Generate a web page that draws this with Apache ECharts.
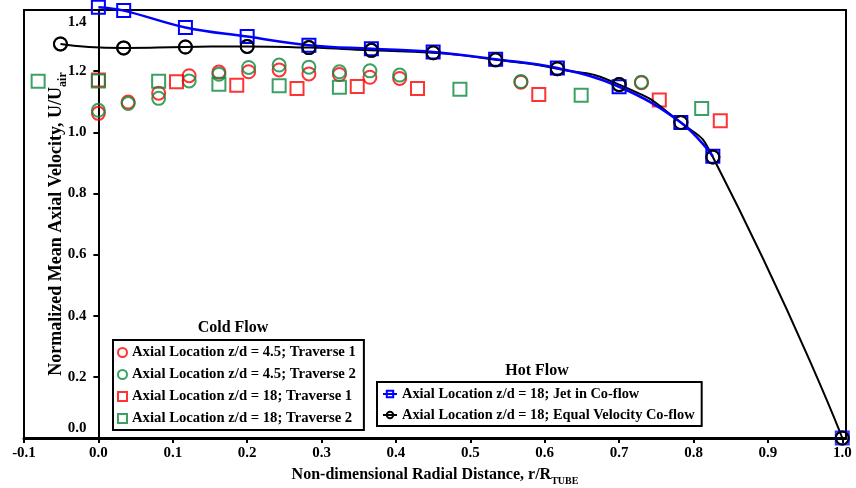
<!DOCTYPE html>
<html><head><meta charset="utf-8">
<script src="https://cdn.jsdelivr.net/npm/echarts@6/dist/echarts.min.js"></script>
<style>html,body{margin:0;padding:0;background:#fff}#c{width:856px;height:488px}</style>
</head><body><div id="c"></div>
<script>
// ---- data (r/R_TUBE, U/U_air) ----
const redCircleR   = [0.0, 0.040, 0.081, 0.122, 0.162, 0.202, 0.243, 0.283, 0.324, 0.365, 0.405, 0.568, 0.730];
const redCircleU   = [1.062, 1.099, 1.128, 1.185, 1.197, 1.198, 1.204, 1.191, 1.189, 1.180, 1.176, 1.164, 1.162];
const greenCircleR = [0.0, 0.040, 0.081, 0.122, 0.162, 0.202, 0.243, 0.283, 0.324, 0.365, 0.405, 0.568, 0.730];
const greenCircleU = [1.072, 1.094, 1.111, 1.168, 1.190, 1.212, 1.220, 1.213, 1.198, 1.201, 1.187, 1.166, 1.164];
const redSquareR   = [0.0, 0.105, 0.186, 0.267, 0.348, 0.429, 0.592, 0.754, 0.836];
const redSquareU   = [1.171, 1.165, 1.154, 1.143, 1.150, 1.143, 1.124, 1.106, 1.038];
const greenSquareR = [-0.081, 0.0, 0.081, 0.162, 0.243, 0.324, 0.486, 0.649, 0.811];
const greenSquareU = [1.167, 1.168, 1.167, 1.157, 1.152, 1.147, 1.141, 1.121, 1.078];
const jetR   = [0.0, 0.034, 0.117, 0.200, 0.283, 0.367, 0.450, 0.534, 0.617, 0.700, 0.783, 0.826, 1.0];
const jetU   = [1.409, 1.398, 1.343, 1.313, 1.285, 1.273, 1.263, 1.239, 1.210, 1.149, 1.032, 0.922, 0.0];
const equalR = [-0.051, 0.034, 0.117, 0.200, 0.283, 0.367, 0.450, 0.534, 0.617, 0.700, 0.783, 0.826, 1.0];
const equalU = [1.289, 1.276, 1.279, 1.281, 1.277, 1.268, 1.260, 1.237, 1.208, 1.156, 1.032, 0.919, 0.0];

const coldNames = ['Axial Location z/d = 4.5; Traverse 1', 'Axial Location z/d = 4.5; Traverse 2',
                   'Axial Location z/d = 18; Traverse 1', 'Axial Location z/d = 18; Traverse 2'];
const hotNames  = ['Axial Location z/d = 18; Jet in Co-flow', 'Axial Location z/d = 18; Equal Velocity Co-flow'];
const coldTitle = 'Cold Flow', hotTitle = 'Hot Flow';
const xName = 'Non-dimensional Radial Distance, r/R{sub|TUBE}';
const yName = 'Normalized Mean Axial Velocity, U/U{sub|air}';

// ---- styling ----
const FONT = 'Liberation Serif';
const RED = '#ff0000', GREEN = '#0a8a3c', BLUE = '#0000ff', BLACK = '#000000';
const pts = (r, u) => r.map((x, i) => [x, u[i]]);
const mk = (sym, color) => ({symbol: sym, symbolSize: 13,
  itemStyle: {color: 'rgba(0,0,0,0)', borderColor: color, borderWidth: 2}});
const txt = {fontFamily: FONT, fontWeight: 'bold', color: '#000'};

const GRID = {left: 24, right: 10, top: 10, bottom: 50};
const X_MIN = -0.1, X_MAX = 1.005;
// pixel offset that moves the y axis from the grid's left edge to r = 0
const yAxisOffset = -(0 - X_MIN) / (X_MAX - X_MIN) * (856 - GRID.left - GRID.right);

const n = jetR.length;
const series = [
  Object.assign({type: 'scatter', name: coldNames[0], data: pts(redCircleR, redCircleU), z: 2, clip: false}, mk('circle', RED)),
  Object.assign({type: 'scatter', name: coldNames[1], data: pts(greenCircleR, greenCircleU), z: 2, clip: false}, mk('circle', GREEN)),
  Object.assign({type: 'scatter', name: coldNames[2], data: pts(redSquareR, redSquareU), z: 2, clip: false}, mk('rect', RED)),
  Object.assign({type: 'scatter', name: coldNames[3], data: pts(greenSquareR, greenSquareU), z: 2, clip: false}, mk('rect', GREEN)),
  Object.assign({type: 'line', name: hotNames[1], data: pts(equalR, equalU), smooth: 0.6,
    z: 3, clip: false, showSymbol: true, lineStyle: {color: BLACK, width: 2}}, mk('circle', BLACK)),
  Object.assign({type: 'line', name: hotNames[0], data: pts(jetR.slice(0, n - 1), jetU.slice(0, n - 1)), smooth: 0.4,
    z: 4, clip: false, showSymbol: true, lineStyle: {color: BLUE, width: 2.5}}, mk('rect', BLUE)),
  Object.assign({type: 'scatter', name: 'jetEnd', data: pts(jetR.slice(n - 1), jetU.slice(n - 1)), z: 4, clip: false}, mk('rect', BLUE)),
  Object.assign({type: 'scatter', name: 'equalMarks', data: pts(equalR, equalU), z: 5, clip: false}, mk('circle', BLACK))
];

const chart = echarts.init(document.getElementById('c'), null, {renderer: 'canvas'});
chart.setOption({
  animation: false,
  backgroundColor: '#fff',
  grid: Object.assign({show: true, borderColor: '#000', borderWidth: 2,
         containLabel: false, outerBoundsMode: 'none'}, GRID),
  xAxis: {
    type: 'value', min: X_MIN, max: X_MAX, interval: 0.1,
    axisLine: {show: true, onZero: false, lineStyle: {color: '#000', width: 3}},
    axisTick: {show: true, length: 5, lineStyle: {color: '#000', width: 2}},
    splitLine: {show: false},
    axisLabel: Object.assign({fontSize: 15, margin: 8, showMaxLabel: false,
      formatter: v => v.toFixed(1)}, txt),
    name: xName, nameLocation: 'middle', nameGap: 26, nameMoveOverlap: false,
    nameTextStyle: Object.assign({fontSize: 16, lineHeight: 22,
      rich: {sub: Object.assign({fontSize: 10, lineHeight: 10, verticalAlign: 'bottom'}, txt)}}, txt)
  },
  yAxis: {
    type: 'value', min: 0, max: 1.4, interval: 0.2, offset: yAxisOffset,
    axisLine: {show: true, onZero: false, lineStyle: {color: '#000', width: 2}},
    axisTick: {show: true, length: 5, lineStyle: {color: '#000', width: 2}},
    splitLine: {show: false},
    axisLabel: Object.assign({fontSize: 15, margin: 12,
      formatter: v => v === 0 ? '{lo|0.0}' : (Math.abs(v - 1.4) < 1e-6 ? '{hi|1.4}' : v.toFixed(1)),
      rich: {lo: Object.assign({fontSize: 15, padding: [0, 0, 20, 0]}, txt),
             hi: Object.assign({fontSize: 15, padding: [24, 0, 0, 0]}, txt)}}, txt),
    name: yName, nameLocation: 'middle', nameGap: 29, nameMoveOverlap: false,
    nameTextStyle: Object.assign({fontSize: 18, lineHeight: 26,
      rich: {sub: Object.assign({fontSize: 12, lineHeight: 13, verticalAlign: 'bottom'}, txt)}}, txt)
  },
  legend: [
    {data: coldNames, orient: 'vertical', left: 113, top: 340, selectedMode: false,
     borderColor: '#000', borderWidth: 2, padding: [5, 8, 4, 4],
     itemWidth: 9, itemHeight: 9, itemGap: 7,
     textStyle: Object.assign({fontSize: 14.7, lineHeight: 14}, txt)},
    {data: hotNames, orient: 'vertical', left: 377, top: 382, selectedMode: false,
     borderColor: '#000', borderWidth: 2, padding: [5, 7, 4, 5],
     itemWidth: 14, itemHeight: 8, itemGap: 7,
     textStyle: Object.assign({fontSize: 14.4, lineHeight: 14}, txt)}
  ],
  graphic: [
    {type: 'text', x: 233, y: 328, style: {text: coldTitle, font: 'bold 16px "Liberation Serif"', fill: '#000', textAlign: 'center', textVerticalAlign: 'middle'}},
    {type: 'text', x: 537, y: 371, style: {text: hotTitle, font: 'bold 16px "Liberation Serif"', fill: '#000', textAlign: 'center', textVerticalAlign: 'middle'}}
  ],
  series: series
});
</script>
</body></html>
